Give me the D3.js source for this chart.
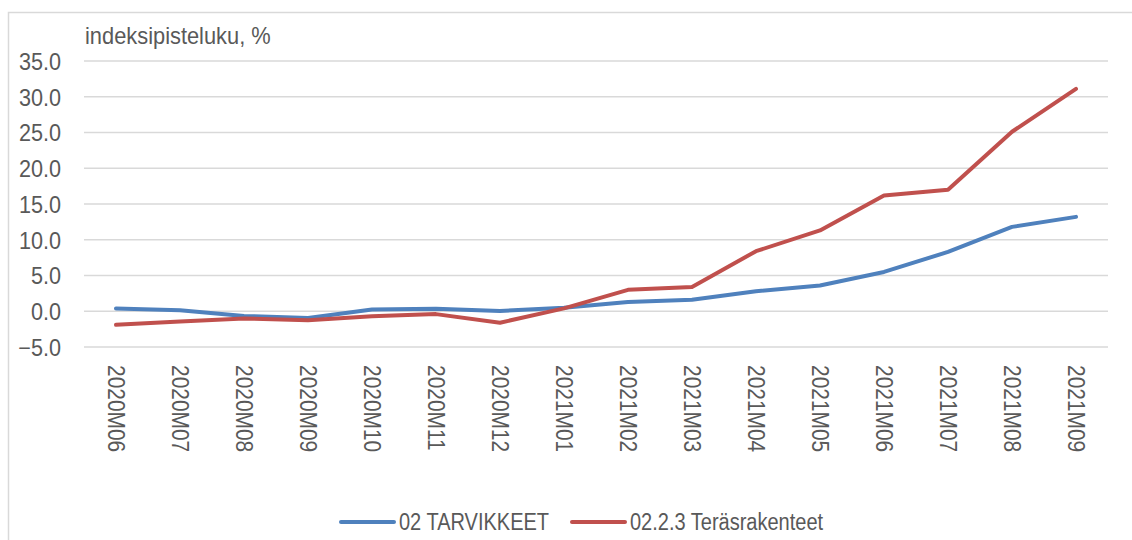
<!DOCTYPE html>
<meta charset="utf-8">
<style>
  body { margin: 0; background: #fff; }
  svg text { font-family: "Liberation Sans", Arial, sans-serif; fill: #595959; }
  .grid line { stroke: #d9d9d9; stroke-width: 1.5; }
</style>
<svg width="1132" height="540"></svg>
<script src="https://cdnjs.cloudflare.com/ajax/libs/d3/7.8.5/d3.min.js"></script>
<script>
// months on the x axis
var months = ["2020M06","2020M07","2020M08","2020M09","2020M10","2020M11","2020M12",
              "2021M01","2021M02","2021M03","2021M04","2021M05","2021M06","2021M07","2021M08","2021M09"];
// series values (index point change, %)
var tarvikkeet = [0.4, 0.15, -0.65, -0.95, 0.25, 0.35, 0.05, 0.5, 1.3, 1.6, 2.8, 3.6, 5.5, 8.3, 11.8, 13.2];
var terasrakenteet = [-1.9, -1.45, -1.0, -1.25, -0.7, -0.4, -1.6, 0.4, 3.0, 3.4, 8.4, 11.3, 16.2, 17.0, 25.1, 31.1];
var seriesNames = ["02 TARVIKKEET", "02.2.3 Teräsrakenteet"];
var yTicks = [-5, 0, 5, 10, 15, 20, 25, 30, 35];

var svg = d3.select("svg");
var colors = ["#4F81BD", "#C0504D"];

// chart area border (right and bottom edges fall outside the picture)
svg.append("rect")
    .attr("x", 8.5).attr("y", 12.5)
    .attr("width", 1140).attr("height", 540)
    .attr("fill", "none").attr("stroke", "#d9d9d9").attr("stroke-width", 1.5);

var x = d3.scaleBand().domain(months).range([84, 1108]);
var y = d3.scaleLinear().domain([-5, 35]).range([347, 61]);

// gridlines
svg.append("g").attr("class", "grid")
  .selectAll("line").data(yTicks).enter().append("line")
    .attr("x1", 84).attr("x2", 1108)
    .attr("y1", function(d) { return y(d); })
    .attr("y2", function(d) { return y(d); });

// y axis labels (narrow look: squeeze horizontally)
var yAxis = svg.append("g")
    .attr("transform", "translate(61,0)")
    .call(d3.axisLeft(y).tickValues(yTicks).tickFormat(d3.format(".1f")).tickSize(0).tickPadding(0));
yAxis.select(".domain").remove();
yAxis.selectAll("text")
    .style("font-size", "23px")
    .attr("x", 0)
    .attr("dy", "0.36em")
    .attr("transform", "scale(0.94,1)");

// x axis labels, rotated to read downwards
var xAxis = svg.append("g")
    .attr("transform", "translate(0,365)")
    .call(d3.axisBottom(x).tickSize(0).tickPadding(0));
xAxis.select(".domain").remove();
xAxis.selectAll("text")
    .style("font-size", "23px")
    .attr("text-anchor", "start")
    .attr("transform", "rotate(90) scale(0.91,1)")
    .attr("x", 0).attr("y", 0)
    .attr("dy", "0.35em");

// axis title
svg.append("text")
    .attr("transform", "translate(85,44) scale(0.95,1)")
    .style("font-size", "23px")
    .text("indeksipisteluku, %");

// lines
var line = d3.line()
    .x(function(d, i) { return x(months[i]) + x.bandwidth() / 2; })
    .y(function(d) { return y(d); });

[tarvikkeet, terasrakenteet].forEach(function(s, i) {
  svg.append("path")
      .datum(s)
      .attr("d", line)
      .attr("fill", "none")
      .attr("stroke", colors[i])
      .attr("stroke-width", 4)
      .attr("stroke-linejoin", "round")
      .attr("stroke-linecap", "round");
});

// legend
var legendX = [341, 572];
seriesNames.forEach(function(name, i) {
  var g = svg.append("g").attr("transform", "translate(" + legendX[i] + ",522)");
  g.append("line")
      .attr("x1", 0).attr("x2", 53)
      .attr("stroke", colors[i]).attr("stroke-width", 4).attr("stroke-linecap", "round");
  g.append("text")
      .attr("transform", "translate(58,0) scale(0.87,1)")
      .attr("dy", "0.36em")
      .style("font-size", "23px")
      .text(name);
});
</script>
